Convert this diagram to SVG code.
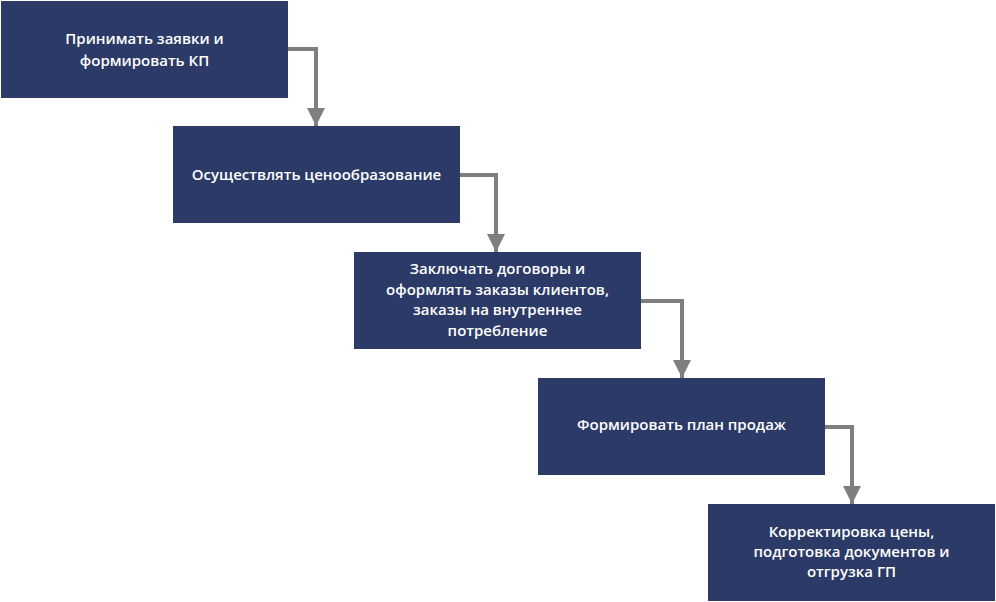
<svg xmlns="http://www.w3.org/2000/svg" width="996" height="602" viewBox="0 0 996 602">
<defs>
<style>
.box{fill:#2b3a66;}
.t{fill:#ffffff;font-family:"Open Sans","Noto Sans","Liberation Sans",sans-serif;font-size:15px;font-weight:600;text-anchor:middle;}
.c{fill:none;stroke:#7f7f7f;stroke-width:4;}
</style>
<marker id="ah" markerUnits="userSpaceOnUse" markerWidth="18" markerHeight="18" refX="18" refY="9" orient="auto" viewBox="0 0 18 18">
<path d="M0,0 L18,9 L0,18 Z" fill="#7f7f7f"/>
</marker>
</defs>
<rect width="996" height="602" fill="#ffffff"/>
<g id="connectors">
<path class="c" d="M288,49 H316 V126" marker-end="url(#ah)"/>
<path class="c" d="M460,175 H496 V252" marker-end="url(#ah)"/>
<path class="c" d="M641,301 H682 V378" marker-end="url(#ah)"/>
<path class="c" d="M825,427 H852 V504" marker-end="url(#ah)"/>
</g>
<g id="node1">
<rect class="box" x="1" y="1" width="287" height="97"/>
<text class="t" x="144.5" y="44">Принимать заявки и</text>
<text class="t" x="144.5" y="66">формировать КП</text>
</g>
<g id="node2">
<rect class="box" x="173" y="126" width="287" height="97"/>
<text class="t" x="316.5" y="180">Осуществлять ценообразование</text>
</g>
<g id="node3">
<rect class="box" x="354" y="252" width="287" height="97"/>
<text class="t" x="497.5" y="274">Заключать договоры и</text>
<text class="t" x="497.5" y="294.5">оформлять заказы клиентов,</text>
<text class="t" x="497.5" y="315">заказы на внутреннее</text>
<text class="t" x="497.5" y="335.5">потребление</text>
</g>
<g id="node4">
<rect class="box" x="538" y="378" width="287" height="97"/>
<text class="t" x="681.5" y="430">Формировать план продаж</text>
</g>
<g id="node5">
<rect class="box" x="708" y="504" width="287" height="97"/>
<text class="t" x="851.5" y="537">Корректировка цены,</text>
<text class="t" x="851.5" y="557">подготовка документов и</text>
<text class="t" x="851.5" y="577">отгрузка ГП</text>
</g>
</svg>
